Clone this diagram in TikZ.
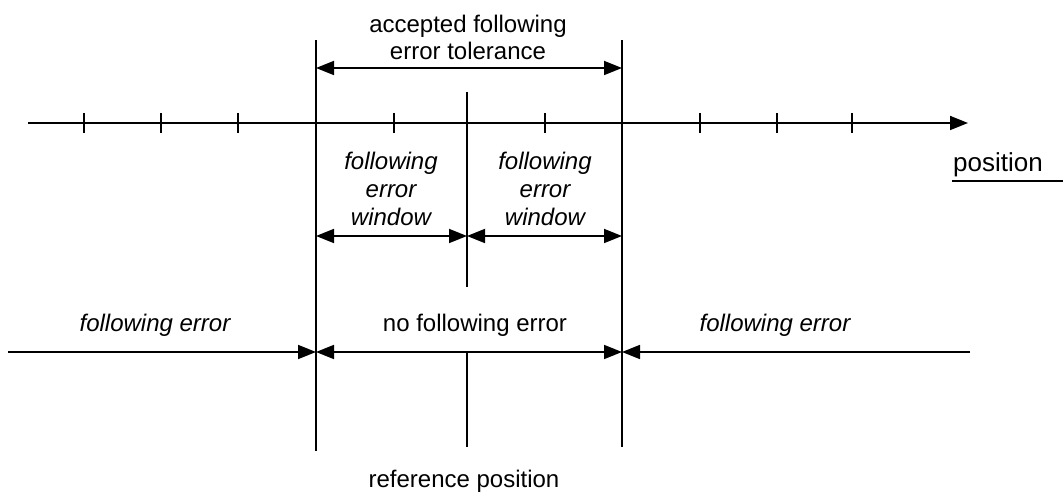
\documentclass[tikz,border=0pt]{standalone}
\usepackage{fontspec}
\setmainfont{Liberation Sans}
\usetikzlibrary{arrows.meta}
\tikzset{
  ln/.style={line width=1.8pt},
  dim/.style={line width=1.8pt, -{Triangle[length=18pt,width=14pt]}},
  dimb/.style={line width=1.8pt, {Triangle[length=18pt,width=14pt]}-{Triangle[length=18pt,width=14pt]}},
  tick/.style={line width=1.6pt},
  lbl/.style={font=\fontsize{24}{27}\selectfont, inner sep=0pt, anchor=base},
  ilbl/.style={font=\fontsize{24}{27}\selectfont\itshape, inner sep=0pt, anchor=base},
}
\begin{document}
\begin{tikzpicture}[x=1pt,y=-1pt]
\useasboundingbox (0,0) rectangle (1063,494);
% axis
\coordinate (ax0) at (28,123);
\coordinate (ax1) at (968,123);
\draw[dim] (ax0) -- (ax1);
\foreach \x in {84,161,238,394,545,700,777,852}
  \draw[tick] (\x,113) -- (\x,133);
% vertical lines
\coordinate (lt) at (316,40); \coordinate (lb) at (316,451);
\coordinate (rt) at (622,40); \coordinate (rb) at (622,447);
\coordinate (mt) at (467,92); \coordinate (mm) at (467,287);
\coordinate (mu) at (467,352); \coordinate (mb) at (467,447);
\draw[ln] (lt) -- (lb);
\draw[ln] (rt) -- (rb);
\draw[ln] (mt) -- (mm);
\draw[ln] (mu) -- (mb);
% top arrow
\coordinate (ta) at (316,68); \coordinate (tb) at (622,68);
\draw[dimb] (ta) -- (tb);
\node[lbl] (acc1) at (468,33) {accepted following};
\node[lbl] (acc2) at (468,60) {error tolerance};
% window arrows
\coordinate (wa) at (316,236); \coordinate (wm) at (467,236); \coordinate (wb) at (622,236);
\draw[dimb] (wa) -- (wm);
\draw[dimb] (wm) -- (wb);
\node[ilbl] (w1a) at (391,170) {following};
\node[ilbl] (w1b) at (391,198) {error};
\node[ilbl] (w1c) at (391,226) {window};
\node[ilbl] (w2a) at (545,170) {following};
\node[ilbl] (w2b) at (545,198) {error};
\node[ilbl] (w2c) at (545,226) {window};
% bottom row
\coordinate (ba) at (8,352); \coordinate (bl) at (316,352);
\coordinate (br) at (622,352); \coordinate (bz) at (970,352);
\draw[dim] (ba) -- (bl);
\draw[dimb] (bl) -- (br);
\draw[dim] (bz) -- (br);
\node[ilbl] (fe1) at (155,332) {following error};
\node[lbl] (nfe) at (475,332) {no following error};
\node[ilbl] (fe2) at (775,332) {following error};
\node[lbl] (ref) at (464,487) {reference position};
% position label
\node[lbl,font=\fontsize{26}{30}\selectfont] (pos) at (998,172) {position};
\coordinate (ua) at (952,181); \coordinate (ub) at (1063,181);
\draw[line width=2.2pt] (ua) -- (ub);
\end{tikzpicture}
\end{document}
